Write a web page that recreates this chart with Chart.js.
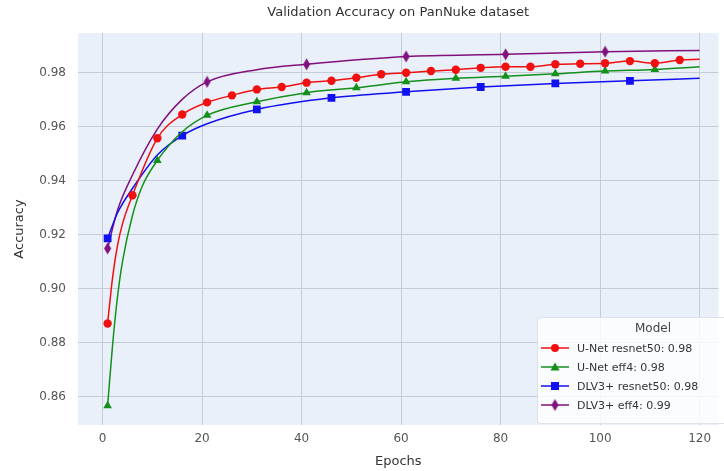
<!DOCTYPE html>
<html>
<head>
<meta charset="utf-8">
<script src="https://cdn.jsdelivr.net/npm/chart.js@4.4.0/dist/chart.umd.min.js"></script>
<style>
  body { margin: 0; background: #ffffff; }
  #wrap { width: 724px; height: 471px; }
</style>
</head>
<body>
<div id="wrap"><canvas id="acc" width="724" height="471"></canvas></div>
<script>
// values
const xTicks = [0, 20, 40, 60, 80, 100, 120];
const yTicks = [0.86, 0.88, 0.90, 0.92, 0.94, 0.96, 0.98];

const seriesNames = ["U-Net resnet50: 0.98", "U-Net eff4: 0.98", "DLV3+ resnet50: 0.98", "DLV3+ eff4: 0.99"];

const unetR50Epochs = [1, 2, 3, 4, 6, 11, 16, 21, 26, 31, 36, 41, 46, 51, 56, 61, 66, 71, 76, 81, 86, 91, 96, 101, 106, 111, 116, 120];
const unetR50Acc = [0.887, 0.904, 0.916, 0.924, 0.9345, 0.9556, 0.9644, 0.9689, 0.9715, 0.9737, 0.9746, 0.9762, 0.9769, 0.978, 0.9793, 0.9799, 0.9805, 0.981, 0.9817, 0.9821, 0.9821, 0.983, 0.9832, 0.9834, 0.9842, 0.9834, 0.9846, 0.9849];
const unetR50Marks = [1, 6, 11, 16, 21, 26, 31, 36, 41, 46, 51, 56, 61, 66, 71, 76, 81, 86, 91, 96, 101, 106, 111, 116];

const unetEff4Epochs = [1, 2, 3, 4, 6, 8, 11, 16, 21, 31, 41, 51, 61, 71, 81, 91, 101, 111, 120];
const unetEff4Acc = [0.8565, 0.879, 0.897, 0.91, 0.927, 0.938, 0.9474, 0.958, 0.9641, 0.9691, 0.9725, 0.9743, 0.9765, 0.9778, 0.9786, 0.9795, 0.9805, 0.9811, 0.9821];
const unetEff4Marks = [1, 11, 21, 31, 41, 51, 61, 71, 81, 91, 101, 111];

const dlvR50Epochs = [1, 3, 6, 11, 16, 21, 31, 46, 61, 76, 91, 106, 120];
const dlvR50Acc = [0.9185, 0.928, 0.937, 0.9494, 0.9566, 0.961, 0.9663, 0.9706, 0.9728, 0.9746, 0.9759, 0.9769, 0.9778];
const dlvR50Marks = [1, 16, 31, 46, 61, 76, 91, 106];

const dlvEff4Epochs = [1, 3, 6, 11, 16, 21, 31, 41, 61, 81, 101, 120];
const dlvEff4Acc = [0.9148, 0.929, 0.942, 0.959, 0.97, 0.9765, 0.981, 0.983, 0.9859, 0.9867, 0.9877, 0.9881];
const dlvEff4Marks = [1, 21, 41, 61, 81, 101];

const colors = ["#f01010", "#13901a", "#1010f0", "#80107e"];

function toPoints(epochs, acc) {
  return epochs.map((e, i) => ({ x: e, y: acc[i] }));
}

// thin diamond marker like matplotlib 'd'
function thinDiamond(color) {
  const c = document.createElement("canvas");
  c.width = 9;
  c.height = 13;
  const g = c.getContext("2d");
  g.fillStyle = color;
  g.beginPath();
  g.moveTo(4.5, 0.5);
  g.lineTo(8, 6.5);
  g.lineTo(4.5, 12.5);
  g.lineTo(1, 6.5);
  g.closePath();
  g.fill();
  return c;
}
const diamondImg = thinDiamond(colors[3]);

function makeSet(i, epochs, acc, marks, style, radius) {
  return {
    label: seriesNames[i],
    data: toPoints(epochs, acc),
    borderColor: colors[i],
    backgroundColor: colors[i],
    borderWidth: 1.5,
    cubicInterpolationMode: "monotone",
    pointStyle: style,
    pointRadius: (ctx) => (marks.includes(ctx.raw ? ctx.raw.x : -1) ? radius : 0),
    pointBorderWidth: 0,
  };
}

const plotBg = {
  id: "plotBg",
  beforeDraw(chart) {
    const { ctx, chartArea: a } = chart;
    ctx.save();
    ctx.fillStyle = "#eaf0f9";
    ctx.fillRect(a.left, a.top, a.right - a.left, a.bottom - a.top);
    ctx.restore();
  },
};

const texts = {
  id: "texts",
  afterDraw(chart) {
    const { ctx, chartArea: a } = chart;
    const cx = (a.left + a.right) / 2;
    ctx.save();
    ctx.fillStyle = "#333";
    ctx.textAlign = "center";
    ctx.textBaseline = "middle";
    ctx.font = "13px 'DejaVu Sans'";
    ctx.fillText("Validation Accuracy on PanNuke dataset", cx, 13);
    ctx.fillText("Epochs", cx, 462);
    ctx.translate(20, (a.top + a.bottom) / 2);
    ctx.rotate(-Math.PI / 2);
    ctx.fillText("Accuracy", 0, 0);
    ctx.restore();

    // legend
    const bx = 537, by = 317, bw = 190, bh = 106;
    ctx.save();
    ctx.fillStyle = "rgba(255,255,255,0.8)";
    ctx.strokeStyle = "#dde1e8";
    ctx.lineWidth = 1;
    ctx.beginPath();
    ctx.roundRect(bx + 0.5, by + 0.5, bw, bh, 3);
    ctx.fill();
    ctx.stroke();
    ctx.fillStyle = "#444";
    ctx.textAlign = "center";
    ctx.textBaseline = "middle";
    ctx.font = "12px 'DejaVu Sans'";
    ctx.fillText("Model", 653, 329);
    ctx.font = "11px 'DejaVu Sans'";
    ctx.textAlign = "left";
    seriesNames.forEach((name, i) => {
      const y = 348 + i * 19;
      ctx.strokeStyle = colors[i];
      ctx.lineWidth = 1.5;
      ctx.beginPath();
      ctx.moveTo(541, y);
      ctx.lineTo(569, y);
      ctx.stroke();
      ctx.fillStyle = colors[i];
      ctx.beginPath();
      if (i === 0) {
        ctx.arc(555, y, 4, 0, Math.PI * 2);
        ctx.fill();
      } else if (i === 1) {
        ctx.moveTo(555, y - 4.5);
        ctx.lineTo(559.5, y + 3.5);
        ctx.lineTo(550.5, y + 3.5);
        ctx.closePath();
        ctx.fill();
      } else if (i === 2) {
        ctx.fillRect(551, y - 4, 8, 8);
      } else {
        ctx.drawImage(diamondImg, 555 - 4.5, y - 6.5);
      }
      ctx.fillStyle = "#333";
      ctx.fillText(name, 577, y + 1);
    });
    ctx.restore();
  },
};

new Chart(document.getElementById("acc"), {
  type: "line",
  data: {
    datasets: [
      makeSet(0, unetR50Epochs, unetR50Acc, unetR50Marks, "circle", 4.2),
      makeSet(1, unetEff4Epochs, unetEff4Acc, unetEff4Marks, "triangle", 5),
      makeSet(2, dlvR50Epochs, dlvR50Acc, dlvR50Marks, "rect", 5.5),
      makeSet(3, dlvEff4Epochs, dlvEff4Acc, dlvEff4Marks, diamondImg, 5),
    ],
  },
  options: {
    responsive: false,
    animation: false,
    layout: { padding: { top: 33, left: 0, right: 0, bottom: 0 } },
    plugins: {
      legend: { display: false },
      title: { display: false },
      tooltip: { enabled: false },
    },
    scales: {
      x: {
        type: "linear",
        min: -4.95,
        max: 123.8,
        afterFit: (s) => { s.height = 46; },
        afterBuildTicks: (s) => { s.ticks = xTicks.map((v) => ({ value: v })); },
        grid: { color: "#c6ccd7", lineWidth: 1, drawTicks: false },
        border: { display: false },
        ticks: { padding: 7, color: "#555", font: { family: "DejaVu Sans", size: 12 } },
      },
      y: {
        min: 0.8494,
        max: 0.9946,
        afterFit: (s) => { s.width = 78; },
        afterBuildTicks: (s) => { s.ticks = yTicks.map((v) => ({ value: v })); },
        grid: { color: "#c6ccd7", lineWidth: 1, drawTicks: false },
        border: { display: false },
        ticks: {
          padding: 12,
          color: "#555",
          font: { family: "DejaVu Sans", size: 12 },
          callback: (v) => v.toFixed(2),
        },
      },
    },
  },
  plugins: [plotBg, texts],
});
</script>
</body>
</html>
